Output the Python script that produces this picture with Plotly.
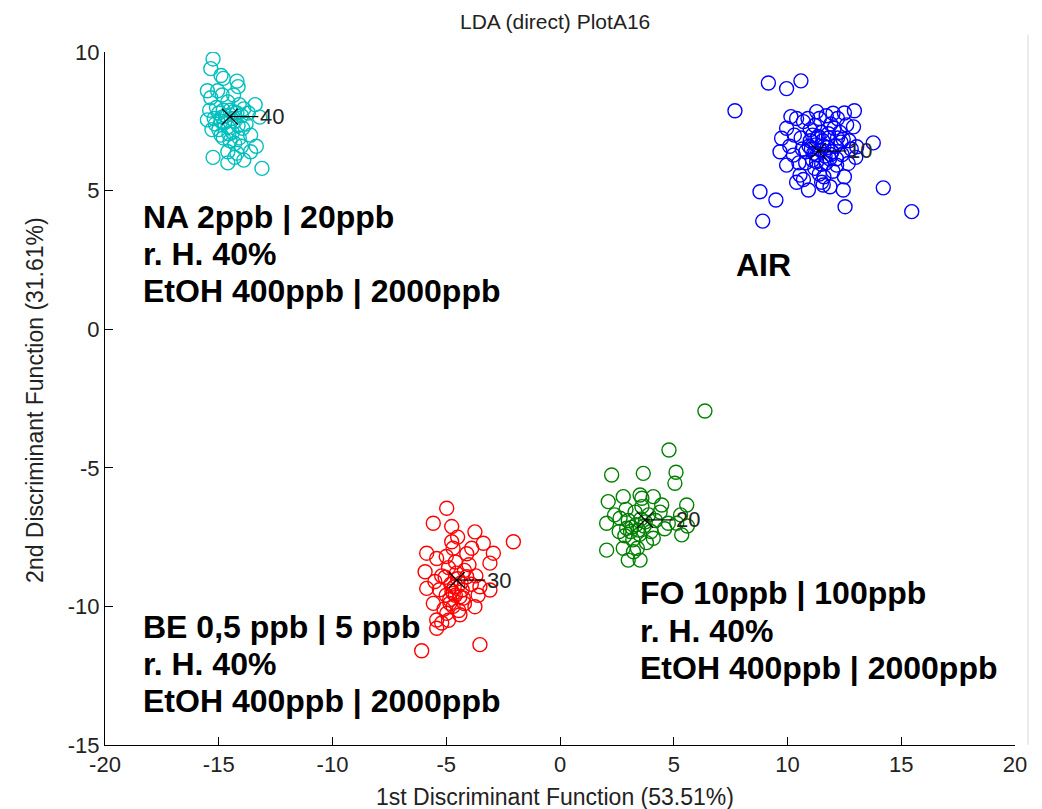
import plotly.graph_objects as go

# ---- data ----
na_x = [-15.25, -15.35, -14.9, -14.8, -14.2, -14.15, -15.5, -15.05, -15.35, -14.85,
        -14.35, -13.4, -13.9, -15.5, -13.2, -15.3, -14.9, -14.1, -14.6, -14.2,
        -13.6, -13.35, -15.25, -13.1, -14.7, -14.5, -14.3, -14.0, -14.6, -14.1,
        -14.8, -14.4, -13.8, -14.9, -15.0, -14.2, -14.5, -14.8, -14.0, -14.3,
        -14.6, -13.9, -15.0, -13.7, -14.6, -15.1, -15.4, -13.6, -14.3, -15.2,
        -14.75, -14.45, -14.15, -15.15, -14.55, -13.95, -14.85, -14.35]
na_y = [9.75, 9.4, 9.15, 9.05, 8.95, 8.75, 8.6, 8.6, 8.35, 8.45,
        8.45, 8.1, 7.95, 7.55, 7.65, 7.2, 7.0, 6.9, 6.4, 6.35,
        6.4, 6.6, 6.2, 5.8, 7.7, 7.9, 7.5, 7.7, 7.3, 8.1,
        7.9, 7.1, 7.4, 7.5, 7.8, 7.8, 6.8, 6.9, 6.6, 6.2,
        6.0, 6.1, 7.2, 7.8, 8.2, 8.0, 7.9, 7.0, 6.7, 7.6,
        7.45, 7.6, 7.35, 7.4, 7.05, 7.25, 7.65, 7.85]

air_x = [9.16, 9.96, 10.59, 7.69, 12.94, 13.77, 8.79, 9.49, 8.91, 14.21,
         15.46, 12.45, 12.53, 10.15, 11.28, 12.0, 9.74, 9.67, 9.96, 10.55,
         10.92, 11.57, 11.87, 12.67, 13.04, 12.6, 10.7, 10.26, 11.28, 12.16,
         9.96, 11.0, 11.3, 11.8, 12.1, 11.5, 10.8, 12.3, 11.7, 12.4,
         11.0, 10.6, 12.0, 11.2, 10.5, 12.7, 11.9, 10.9, 12.2, 11.4,
         10.3, 10.1, 13.0, 12.9, 11.6, 10.7, 11.3, 11.9, 12.5, 10.4,
         11.5, 11.1, 11.6, 12.2, 10.8, 11.4, 12.8, 11.7, 10.4, 12.5,
         11.1, 11.45, 11.75, 11.25, 11.95, 11.55, 11.85, 11.15, 12.05, 11.35,
         11.65, 10.95, 12.35, 11.05, 11.5, 12.15, 10.65, 11.8, 11.2, 12.45]
air_y = [8.88, 8.68, 8.96, 7.88, 7.88, 6.72, 4.96, 4.66, 3.9, 5.1,
         4.24, 5.02, 4.42, 7.67, 7.85, 7.79, 6.89, 6.4, 5.92, 5.56,
         5.02, 5.2, 5.14, 5.98, 6.58, 7.37, 7.49, 6.28, 6.04, 5.92,
         7.25, 6.8, 6.3, 6.9, 6.6, 7.1, 6.4, 7.1, 6.0, 6.3,
         7.2, 6.9, 5.7, 5.8, 6.0, 6.8, 7.4, 7.6, 7.6, 7.6,
         7.0, 6.6, 6.2, 7.3, 5.5, 5.4, 6.9, 6.3, 5.5, 5.3,
         5.3, 6.1, 6.6, 6.9, 6.0, 5.6, 6.5, 7.7, 7.6, 7.8,
         7.0, 6.45, 6.55, 6.65, 6.4, 6.8, 6.15, 6.35, 7.25, 6.95,
         6.25, 6.6, 6.75, 6.5, 5.95, 6.15, 6.5, 7.05, 7.35, 6.85]

be_x = [-4.98, -5.57, -4.76, -3.74, -2.05, -4.76, -5.86, -5.42, -3.88, -3.37,
        -2.93, -3.08, -5.93, -5.86, -5.57, -5.42, -5.42, -4.98, -3.74, -3.08,
        -3.52, -6.08, -3.52, -4.1, -4.69, -4.84, -4.4, -4.5, -4.8, -4.3,
        -4.9, -4.6, -4.2, -5.0, -4.7, -4.4, -5.1, -4.6, -3.9, -5.2,
        -4.0, -4.7, -5.3, -4.9, -4.2, -3.7, -5.5, -5.0, -4.5, -3.6,
        -4.1, -5.2, -4.65, -4.35, -4.55, -4.85, -4.45, -4.75, -5.05, -4.25]
be_y = [-6.46, -7.0, -7.12, -7.31, -7.67, -7.67, -8.08, -8.27, -7.9, -7.72,
        -8.08, -8.44, -8.75, -9.35, -9.89, -10.49, -10.79, -10.25, -10.01, -9.41,
        -9.29, -11.6, -11.38, -8.93, -9.53, -9.89, -9.65, -9.0, -9.2, -9.4,
        -8.6, -8.4, -8.7, -9.6, -10.0, -10.3, -10.1, -9.6, -9.2, -8.9,
        -8.5, -7.9, -9.4, -10.5, -9.9, -8.9, -9.1, -8.2, -7.5, -9.6,
        -8.1, -10.6, -9.3, -9.15, -8.8, -9.75, -10.15, -9.45, -8.95, -9.7]

fo_x = [6.37, 4.79, 2.27, 3.66, 5.1, 5.05, 2.12, 2.78, 3.52, 4.1,
        4.47, 5.57, 2.05, 2.64, 2.93, 5.13, 5.35, 4.1, 2.05, 2.78,
        3.0, 3.52, 3.23, 4.76, 3.3, 3.7, 3.0, 3.9, 3.5, 3.2,
        2.9, 4.2, 3.6, 4.0, 3.4, 2.6, 4.4, 3.1, 3.8, 2.4,
        4.6, 5.3, 5.6, 3.6, 3.35, 3.15, 3.55, 2.85, 3.45, 3.75]
fo_y = [-2.95, -4.36, -5.26, -5.2, -5.16, -5.56, -6.22, -6.04, -5.98, -6.04,
        -6.34, -6.34, -7.0, -6.82, -7.18, -7.0, -7.42, -7.54, -7.97, -7.9,
        -8.33, -8.33, -8.03, -7.0, -6.6, -7.1, -6.9, -6.7, -7.4, -7.6,
        -6.5, -6.9, -6.4, -7.3, -7.9, -7.3, -6.6, -7.3, -7.7, -6.7,
        -7.2, -6.7, -7.1, -6.1, -7.05, -7.15, -6.85, -7.45, -7.25, -6.95]

group_names = ["NA", "AIR", "BE", "FO"]
group_colors = ["#00BFBF", "#0000FF", "#FF0000", "#008000"]
group_x = [na_x, air_x, be_x, fo_x]
group_y = [na_y, air_y, be_y, fo_y]

centroid_x = [-14.51, 11.34, -4.54, 3.74]
centroid_y = [7.67, 6.43, -9.05, -6.88]
centroid_labels = ["40", "10", "30", "20"]

na_lines = ["NA 2ppb | 20ppb", "r. H. 40%", "EtOH 400ppb | 2000ppb"]
be_lines = ["BE 0,5 ppb | 5 ppb", "r. H. 40%", "EtOH 400ppb | 2000ppb"]
fo_lines = ["FO 10ppb | 100ppb", "r. H. 40%", "EtOH 400ppb | 2000ppb"]
air_label = "AIR"

x_ticks = [-20, -15, -10, -5, 0, 5, 10, 15, 20]
y_ticks = [-15, -10, -5, 0, 5, 10]

title_text = "LDA (direct) PlotA16"
x_title = "1st Discriminant Function (53.51%)"
y_title = "2nd Discriminant Function (31.61%)"

# ---- figure ----
FONT = "Liberation Sans, Arial, sans-serif"
fig = go.Figure()

for name, col, xs, ys in zip(group_names, group_colors, group_x, group_y):
    fig.add_trace(go.Scatter(
        x=xs, y=ys, mode="markers", name=name, showlegend=False,
        marker=dict(symbol="circle-open", size=14, color=col, line=dict(width=1.4, color=col)),
        hoverinfo="skip"))

for cx, cy, lab in zip(centroid_x, centroid_y, centroid_labels):
    fig.add_trace(go.Scatter(
        x=[cx, cx + 1.25], y=[cy, cy], mode="lines", showlegend=False,
        line=dict(color="black", width=1.2), hoverinfo="skip"))
    fig.add_trace(go.Scatter(
        x=[cx], y=[cy], mode="markers", showlegend=False,
        marker=dict(symbol="x-thin-open", size=16, color="black", line=dict(width=1.3, color="black")),
        hoverinfo="skip"))
    fig.add_annotation(x=cx + 1.25, y=cy, text=lab, showarrow=False, xanchor="left", yanchor="middle",
                       font=dict(family=FONT, size=22, color="#222222"))

bold_font = dict(family=FONT, size=32, color="black")

def add_block(lines, x0, ys):
    for t, yy in zip(lines, ys):
        fig.add_annotation(x=x0, y=yy, text="<b>" + t + "</b>", showarrow=False,
                           xanchor="left", yanchor="middle", font=bold_font)

add_block(na_lines, -18.4, [4.05, 2.71, 1.38])
add_block(be_lines, -18.4, [-10.74, -12.08, -13.41])
add_block(fo_lines, 3.45, [-9.52, -10.89, -12.22])
fig.add_annotation(x=7.65, y=2.32, text="<b>" + air_label + "</b>", showarrow=False,
                   xanchor="left", yanchor="middle", font=bold_font)

axis_font = dict(family=FONT, size=22, color="#222222")

# axis titles and figure title as annotations for exact placement
fig.add_annotation(xref="paper", yref="paper", x=0.4945, y=-0.075, text=x_title, showarrow=False,
                   xanchor="center", yanchor="middle", font=dict(family=FONT, size=23, color="#222222"))
fig.add_annotation(xref="paper", yref="paper", x=-0.0769, y=0.498, text=y_title, showarrow=False,
                   textangle=-90, xanchor="center", yanchor="middle",
                   font=dict(family=FONT, size=23, color="#222222"))
fig.add_annotation(xref="paper", yref="paper", x=0.4945, y=1.044, text=title_text, showarrow=False,
                   xanchor="center", yanchor="middle", font=dict(family=FONT, size=21, color="#222222"))

# the page body adds an 8px offset; size the figure so the plot area lands where the reference has it
fig.update_layout(
    width=1034, height=801,
    margin=dict(l=97, r=27, t=44, b=64, autoexpand=False),
    paper_bgcolor="white", plot_bgcolor="white",
    xaxis=dict(range=[-20, 20], tickvals=x_ticks, ticktext=[str(v) for v in x_ticks],
               ticks="inside", ticklen=8, tickwidth=1, automargin=False,
               tickcolor="black", showline=True, linecolor="black", linewidth=1, mirror=False,
               showgrid=False, zeroline=False, tickfont=axis_font),
    yaxis=dict(range=[-15, 10], tickvals=y_ticks, ticktext=[str(v) for v in y_ticks],
               ticks="inside", ticklen=8, tickwidth=1, automargin=False,
               tickcolor="black", showline=True, linecolor="black", linewidth=1, mirror=False,
               showgrid=False, zeroline=False, tickfont=axis_font),
)

fig.add_shape(type="line", xref="paper", yref="paper", x0=1.0143, x1=1.0143, y0=0.0, y1=1.025,
              line=dict(color="#d8d8d8", width=1))

fig.write_html("out.html")
